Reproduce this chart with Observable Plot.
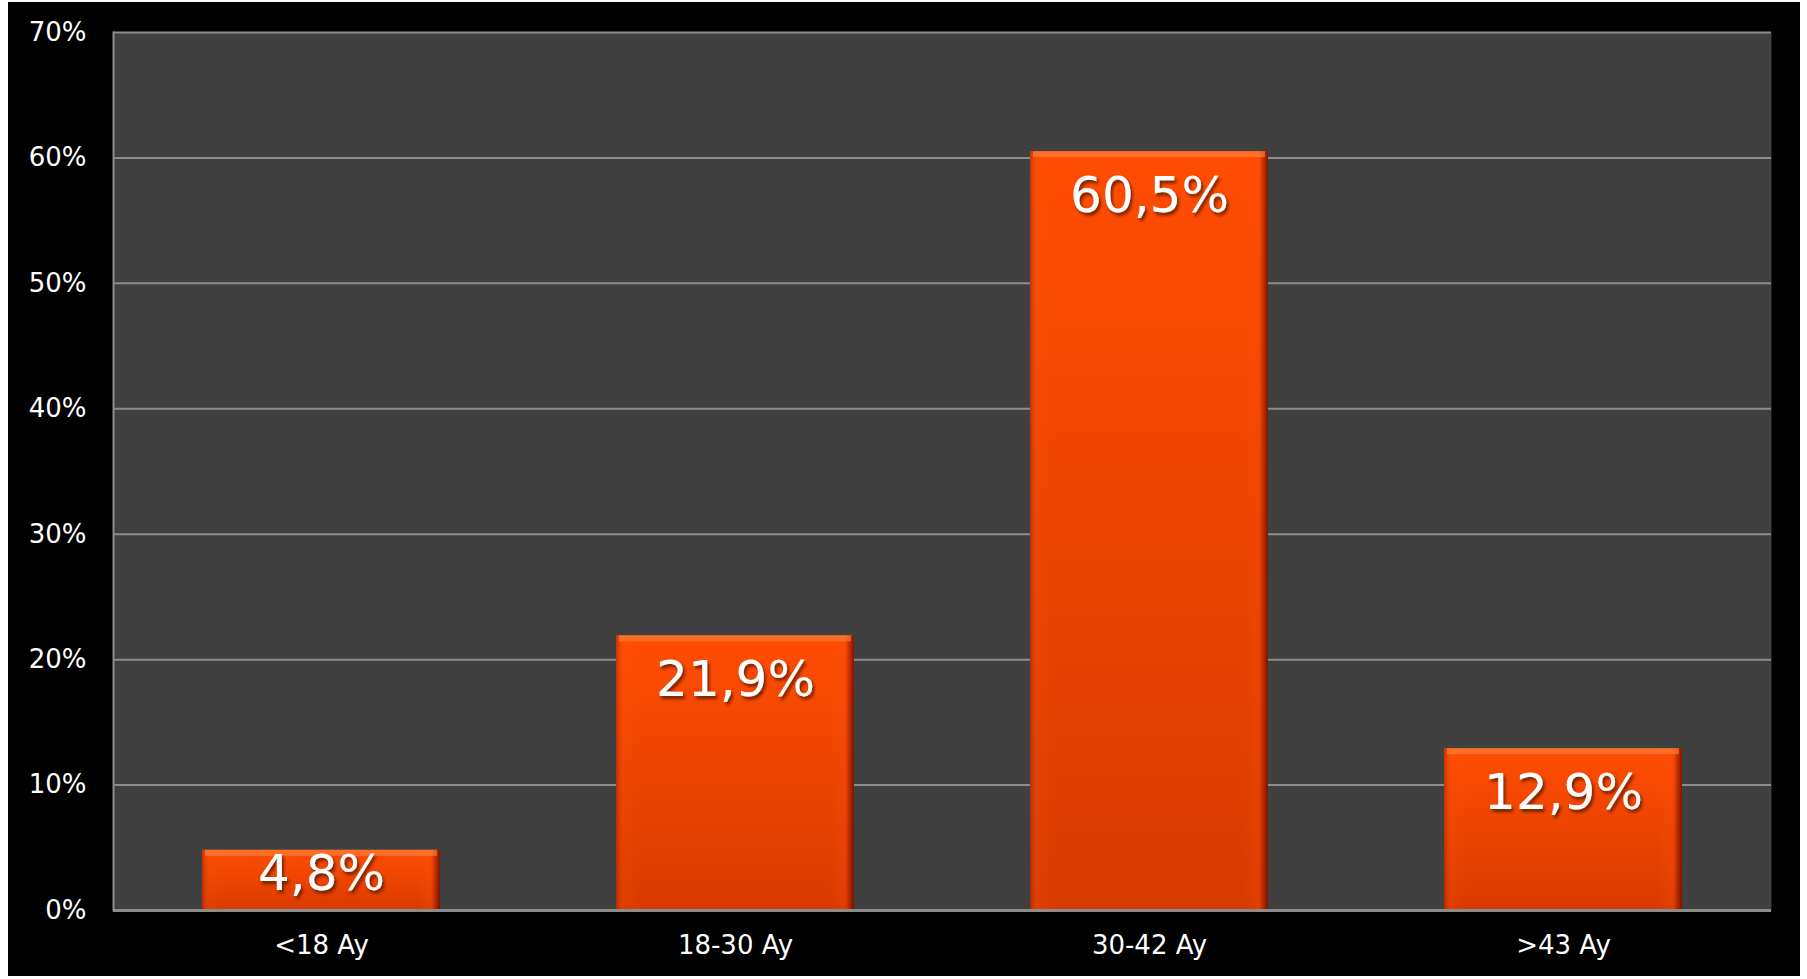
<!DOCTYPE html>
<html>
<head>
<meta charset="utf-8">
<script src="https://cdn.jsdelivr.net/npm/d3@7"></script>
<script src="https://cdn.jsdelivr.net/npm/@observablehq/plot@0.6"></script>
<style>
  html, body { margin: 0; padding: 0; background: #ffffff; }
  #wrap { position: absolute; left: 8px; top: 2px; width: 1792px; height: 974px; background: #000000; }
  svg { font-family: "DejaVu Sans", Verdana, sans-serif; }
</style>
</head>
<body>
<div id="wrap"></div>
<script>
const categories = ["<18 Ay", "18-30 Ay", "30-42 Ay", ">43 Ay"];
const values = [4.8, 21.9, 60.5, 12.9];
const valueLabels = ["4,8%", "21,9%", "60,5%", "12,9%"];
const yTicks = [0, 10, 20, 30, 40, 50, 60, 70];

const data = categories.map((c, i) => ({category: c, value: values[i], label: valueLabels[i]}));

const chart = Plot.plot({
  width: 1792,
  height: 974,
  marginLeft: 105,
  marginRight: 29,
  marginTop: 30,
  marginBottom: 66,
  style: {background: "#000000", color: "#ffffff", fontFamily: "DejaVu Sans, Verdana, sans-serif"},
  x: {domain: categories, paddingInner: 0.424, paddingOuter: 0.212, label: null},
  y: {domain: [0, 70], ticks: yTicks, label: null},
  marks: [
    Plot.frame({fill: "#404040", stroke: null}),
    Plot.gridY(yTicks, {stroke: "#8c8c8c", strokeOpacity: 1, strokeWidth: 2}),
    Plot.frame({anchor: "left", stroke: "#8c8c8c", strokeWidth: 2}),
    Plot.axisY(yTicks, {tickSize: 0, tickPadding: 27, fontSize: 26, tickFormat: d => d + "%", fill: "#ffffff"}),
    Plot.axisX({tickSize: 0, tickPadding: 25, fontSize: 26, fill: "#ffffff"}),
    Plot.barY(data, {x: "category", y: "value", fill: "url(#barGrad)"}),
    Plot.barY(data, {x: "category", y: "value", fill: "url(#edgeGrad)"}),
    Plot.barY(data, {x: "category", y: "value", fill: "#ff8a4a"}),
    Plot.ruleY([0], {stroke: "#8c8c8c", strokeWidth: 3}),
    Plot.text(data.filter(d => d.value >= 10), {x: "category", y: "value", text: "label", dy: 44, fontSize: 50, fill: "#ffffff"}),
    Plot.text(data.filter(d => d.value < 10), {x: "category", y: "value", text: "label", dy: 24, fontSize: 50, fill: "#ffffff"})
  ]
});

const defs = d3.create("svg:defs");
const g1 = defs.append("linearGradient").attr("id", "barGrad").attr("x1", 0).attr("y1", 0).attr("x2", 0).attr("y2", 1);
g1.append("stop").attr("offset", "0%").attr("stop-color", "#ff4d02");
g1.append("stop").attr("offset", "100%").attr("stop-color", "#d93a00");
const g2 = defs.append("linearGradient").attr("id", "edgeGrad").attr("x1", 0).attr("y1", 0).attr("x2", 1).attr("y2", 0);
g2.append("stop").attr("offset", "0%").attr("stop-color", "#7a1a00").attr("stop-opacity", 0.45);
g2.append("stop").attr("offset", "3%").attr("stop-color", "#ff5a10").attr("stop-opacity", 0.15);
g2.append("stop").attr("offset", "10%").attr("stop-color", "#ff5a10").attr("stop-opacity", 0);
g2.append("stop").attr("offset", "90%").attr("stop-color", "#ff5a10").attr("stop-opacity", 0);
g2.append("stop").attr("offset", "96%").attr("stop-color", "#ff4a10").attr("stop-opacity", 0.25);
g2.append("stop").attr("offset", "98%").attr("stop-color", "#8a1500").attr("stop-opacity", 0.5);
g2.append("stop").attr("offset", "100%").attr("stop-color", "#5a0a00").attr("stop-opacity", 0.8);
const f = defs.append("filter").attr("id", "shadow").attr("x", "-10%").attr("y", "-10%").attr("width", "130%").attr("height", "140%");
f.append("feDropShadow").attr("dx", 2).attr("dy", 3).attr("stdDeviation", 1.5).attr("flood-color", "#5a1500").attr("flood-opacity", 0.8);
chart.insertBefore(defs.node(), chart.firstChild);

// Turn the third bar layer into a thin top highlight strip on each bar
const bars = chart.querySelectorAll('g[aria-label="bar"]');
if (bars.length >= 3) {
  bars[2].querySelectorAll("rect").forEach(r => {
    const x = +r.getAttribute("x"), w = +r.getAttribute("width");
    r.setAttribute("height", 6);
    r.setAttribute("fill-opacity", 0.55);
    r.setAttribute("x", x + 3);
    r.setAttribute("width", w - 6);
  });
}
chart.querySelectorAll('g[aria-label="text"] text').forEach(t => t.setAttribute("filter", "url(#shadow)"));

document.getElementById("wrap").appendChild(chart);
</script>
</body>
</html>
